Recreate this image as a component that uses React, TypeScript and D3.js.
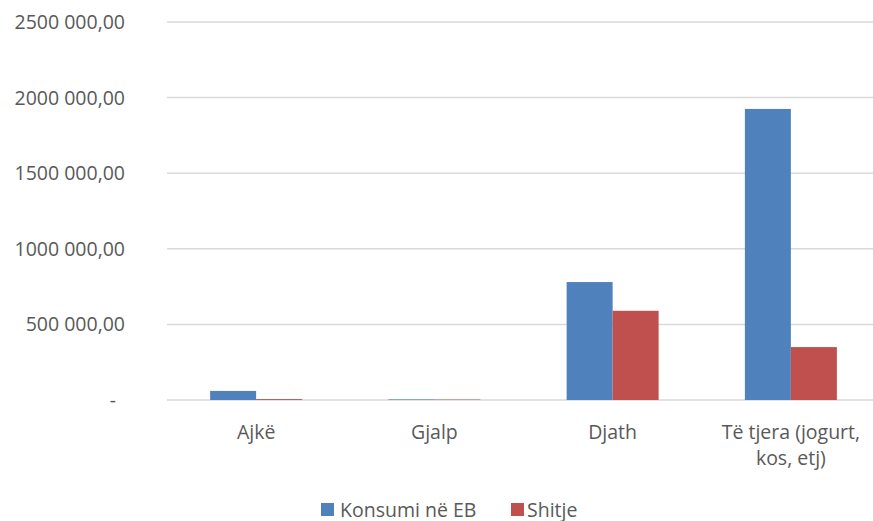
import React from "react";
import * as d3 from "d3";

const categories = ["Ajkë", "Gjalp", "Djath", "Të tjera (jogurt, kos, etj)"];
const categoryLines = [["Ajkë"], ["Gjalp"], ["Djath"], ["Të tjera (jogurt,", "kos, etj)"]];
const seriesNames = ["Konsumi në EB", "Shitje"];
const konsumi = [60000, 4000, 780000, 1925000];
const shitje = [6000, 3000, 590000, 350000];
const yTicks = [0, 500000, 1000000, 1500000, 2000000, 2500000];
const yTickLabels = ["-", "500 000,00", "1000 000,00", "1500 000,00", "2000 000,00", "2500 000,00"];
const colors = ["#4F81BD", "#C0504D"];

const W = 873;
const H = 521;
const FONT = "'Open Sans', Lato, sans-serif";
const TEXT = "#595959";
const FS = 19.5;

export default function App() {
  const y = d3.scaleLinear().domain([0, 2500000]).range([400, 22]);
  const x0 = d3.scaleBand<string>().domain(categories).range([167, 880]).padding(0);
  const x1 = d3
    .scaleBand<string>()
    .domain(seriesNames)
    .range([0, x0.bandwidth()])
    .paddingInner(0)
    .paddingOuter(0.9375);
  const values = [konsumi, shitje];

  return (
    <svg
      width={W}
      height={H}
      style={{ position: "absolute", left: 0, top: 0, background: "#fff" }}
      fontFamily={FONT}
    >
      <rect x={0} y={0} width={W} height={H} fill="#fff" />
      {yTicks.map((t, i) => (
        <g key={t}>
          <line x1={167} x2={W} y1={y(t)} y2={y(t)} stroke="#d9d9d9" strokeWidth={1.5} />
          <text
            x={i === 0 ? 116 : 125}
            y={y(t)}
            dy="0.36em"
            textAnchor="end"
            fontSize={FS}
            fill={TEXT}
          >
            {yTickLabels[i]}
          </text>
        </g>
      ))}
      {categories.map((c, ci) => (
        <g key={c} transform={`translate(${x0(c)},0)`}>
          {seriesNames.map((s, si) => {
            const v = values[si][ci];
            return (
              <rect
                key={s}
                x={x1(s)}
                y={y(v)}
                width={x1.bandwidth()}
                height={y(0) - y(v)}
                fill={colors[si]}
              />
            );
          })}
        </g>
      ))}
      {categories.map((c, ci) =>
        categoryLines[ci].map((l, li) => (
          <text
            key={c + li}
            x={(x0(c) as number) + x0.bandwidth() / 2}
            y={439 + li * 26}
            textAnchor="middle"
            fontSize={FS}
            fill={TEXT}
          >
            {l}
          </text>
        ))
      )}
      <g>
        <rect x={321} y={503} width={13} height={13} fill={colors[0]} />
        <text x={340} y={516.5} fontSize={FS} fill={TEXT}>
          {seriesNames[0]}
        </text>
        <rect x={511} y={503} width={13} height={13} fill={colors[1]} />
        <text x={527} y={516.5} fontSize={FS} fill={TEXT}>
          {seriesNames[1]}
        </text>
      </g>
    </svg>
  );
}
